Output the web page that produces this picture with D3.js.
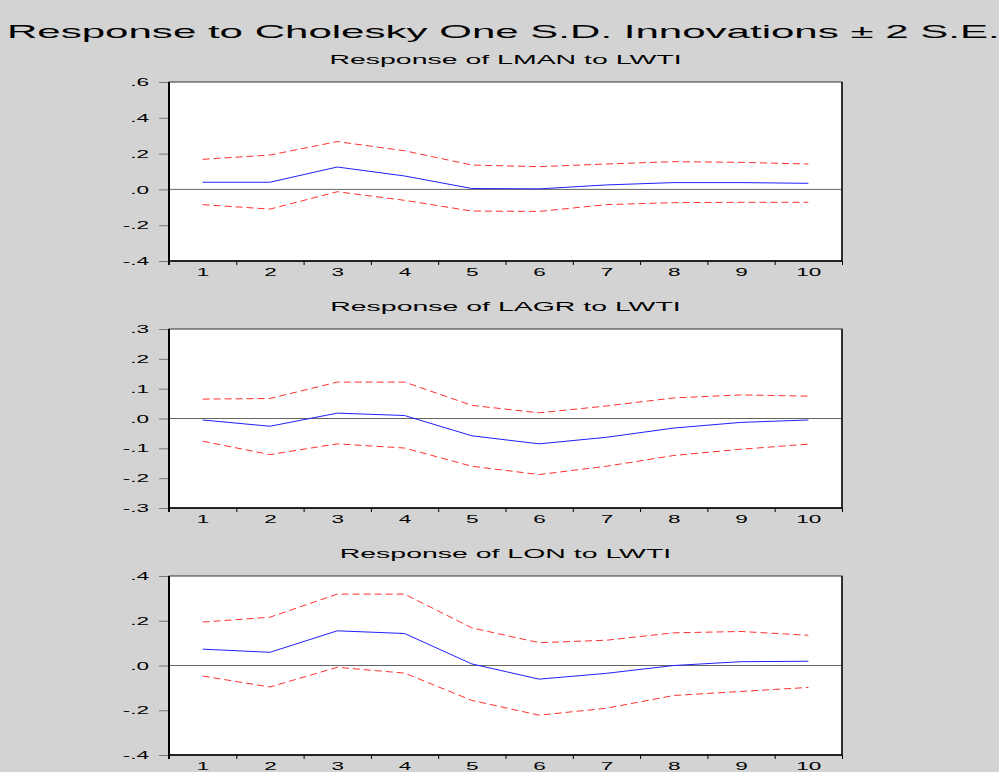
<!DOCTYPE html>
<html>
<head>
<meta charset="utf-8">
<script src="https://cdn.jsdelivr.net/npm/d3@7"></script>
<style>
  html, body { margin: 0; padding: 0; background: #d3d3d3; }
  svg { display: block; }
  text { font-family: "Liberation Sans", Arial, sans-serif; fill: #000; }
</style>
</head>
<body>
<svg id="chart" width="999" height="772"></svg>
<script>
// ---------------- data ----------------
const mainTitle = "Response to Cholesky One S.D. Innovations \u00B1 2 S.E.";
const periods = [1, 2, 3, 4, 5, 6, 7, 8, 9, 10];

const panelTitles = ["Response of LMAN to LWTI", "Response of LAGR to LWTI", "Response of LON to LWTI"];

const lmanResponse = [0.040, 0.040, 0.125, 0.075, 0.005, 0.003, 0.025, 0.038, 0.038, 0.034];
const lmanUpper    = [0.168, 0.192, 0.267, 0.216, 0.136, 0.127, 0.142, 0.155, 0.151, 0.142];
const lmanLower    = [-0.085, -0.110, -0.013, -0.061, -0.121, -0.123, -0.085, -0.074, -0.072, -0.072];

const lagrResponse = [-0.005, -0.026, 0.018, 0.010, -0.058, -0.085, -0.063, -0.032, -0.013, -0.005];
const lagrUpper    = [0.065, 0.067, 0.122, 0.122, 0.044, 0.019, 0.042, 0.069, 0.079, 0.075];
const lagrLower    = [-0.076, -0.121, -0.085, -0.099, -0.160, -0.188, -0.160, -0.124, -0.103, -0.086];

const lonResponse  = [0.073, 0.059, 0.155, 0.143, 0.007, -0.061, -0.035, 0.000, 0.017, 0.019];
const lonUpper     = [0.194, 0.216, 0.319, 0.319, 0.168, 0.102, 0.113, 0.146, 0.152, 0.135];
const lonLower     = [-0.047, -0.096, -0.008, -0.034, -0.156, -0.222, -0.191, -0.134, -0.116, -0.098];

const lmanTickValues = [0.6, 0.4, 0.2, 0.0, -0.2, -0.4];
const lmanTickLabels = [".6", ".4", ".2", ".0", "-.2", "-.4"];
const lagrTickValues = [0.3, 0.2, 0.1, 0.0, -0.1, -0.2, -0.3];
const lagrTickLabels = [".3", ".2", ".1", ".0", "-.1", "-.2", "-.3"];
const lonTickValues  = [0.4, 0.2, 0.0, -0.2, -0.4];
const lonTickLabels  = [".4", ".2", ".0", "-.2", "-.4"];

// ---------------- layout ----------------
const SX = 2.26;               // horizontal stretch of the lettering
const plotLeft = 169, plotRight = 842, plotH = 179;
const panelTops = [82, 329, 576];

const panels = [
  { title: panelTitles[0], resp: lmanResponse, up: lmanUpper, lo: lmanLower,
    domain: [-0.4, 0.6], tv: lmanTickValues, tl: lmanTickLabels },
  { title: panelTitles[1], resp: lagrResponse, up: lagrUpper, lo: lagrLower,
    domain: [-0.3, 0.3], tv: lagrTickValues, tl: lagrTickLabels },
  { title: panelTitles[2], resp: lonResponse, up: lonUpper, lo: lonLower,
    domain: [-0.4, 0.4], tv: lonTickValues, tl: lonTickLabels }
];

const svg = d3.select("#chart");

svg.append("text")
  .attr("transform", `translate(7,38) scale(${SX},1)`)
  .attr("font-size", 18.6)
  .text(mainTitle);

const x = d3.scaleLinear().domain([0.5, 10.5]).range([plotLeft, plotRight]);
const boundaries = d3.range(0.5, 10.6, 1);

panels.forEach((p, i) => {
  const top = panelTops[i];
  const bottom = top + plotH;
  const y = d3.scaleLinear().domain(p.domain).range([bottom, top]);
  const g = svg.append("g");

  g.append("text")
    .attr("transform", `translate(${(plotLeft + plotRight) / 2},${top - 18}) scale(${SX},1)`)
    .attr("text-anchor", "middle")
    .attr("font-size", 12.6)
    .text(p.title);

  g.append("rect")
    .attr("x", plotLeft).attr("y", top)
    .attr("width", plotRight - plotLeft).attr("height", plotH)
    .attr("fill", "#fff").attr("stroke", "#333").attr("stroke-width", 1);

  // y axis
  const yAxis = g.append("g").attr("transform", `translate(${plotLeft},0)`)
    .call(d3.axisLeft(y).tickValues(p.tv).tickSize(10)
      .tickFormat((d, k) => p.tl[k]));
  yAxis.select(".domain").remove();
  yAxis.selectAll(".tick line").attr("stroke", "#777");
  yAxis.selectAll(".tick text")
    .attr("x", null).attr("dy", "0.36em")
    .attr("transform", `translate(-20,0) scale(${SX},1)`)
    .attr("font-size", 10).attr("font-family", null).attr("fill", "#000");

  // x axis ticks at boundaries
  const xTicks = g.append("g").attr("transform", `translate(0,${bottom})`)
    .call(d3.axisBottom(x).tickValues(boundaries).tickSize(4).tickFormat(""));
  xTicks.select(".domain").remove();
  xTicks.selectAll(".tick line").attr("stroke", "#000");

  // x labels
  const xLabels = g.append("g").attr("transform", `translate(0,${bottom})`)
    .call(d3.axisBottom(x).tickValues(periods).tickSize(0).tickFormat(d3.format("d")));
  xLabels.select(".domain").remove();
  xLabels.selectAll(".tick text")
    .attr("y", null).attr("dy", null)
    .attr("transform", `translate(0,15) scale(${SX},1)`)
    .attr("font-size", 10).attr("font-family", null).attr("fill", "#000");

  // zero line
  g.append("line")
    .attr("x1", plotLeft).attr("x2", plotRight + 1)
    .attr("y1", y(0)).attr("y2", y(0))
    .attr("stroke", "#666").attr("stroke-width", 1);

  // axis lines
  g.append("line").attr("x1", plotLeft).attr("x2", plotLeft)
    .attr("y1", top).attr("y2", bottom + 4)
    .attr("stroke", "#000").attr("stroke-width", 2);
  g.append("line").attr("x1", plotLeft).attr("x2", plotRight)
    .attr("y1", bottom).attr("y2", bottom)
    .attr("stroke", "#000").attr("stroke-width", 1.5);
  g.append("line").attr("x1", plotRight).attr("x2", plotRight)
    .attr("y1", top).attr("y2", bottom)
    .attr("stroke", "#111").attr("stroke-width", 1.5);

  const line = d3.line().x((d, k) => x(periods[k])).y(d => y(d));

  g.append("path").datum(p.up).attr("d", line)
    .attr("fill", "none").attr("stroke", "#ff3030").attr("stroke-width", 1)
    .attr("stroke-dasharray", "7,4");
  g.append("path").datum(p.lo).attr("d", line)
    .attr("fill", "none").attr("stroke", "#ff3030").attr("stroke-width", 1)
    .attr("stroke-dasharray", "7,4");
  g.append("path").datum(p.resp).attr("d", line)
    .attr("fill", "none").attr("stroke", "#2020ff").attr("stroke-width", 1);
});
</script>
</body>
</html>
